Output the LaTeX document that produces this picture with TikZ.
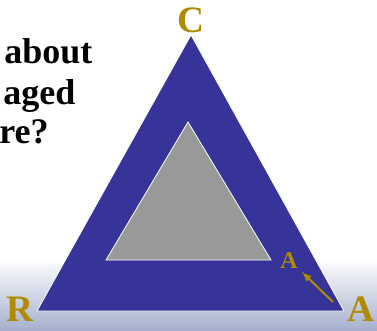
\documentclass[tikz,border=0pt]{standalone}
\usepackage{fontspec}
\setmainfont{Liberation Serif}
\usepackage{tikz}
\definecolor{triblue}{RGB}{54,51,153}
\definecolor{trigray}{RGB}{153,153,153}
\definecolor{gold}{RGB}{176,138,0}
\definecolor{haze}{RGB}{166,176,205}

\begin{document}
\begin{tikzpicture}[x=0.75pt,y=-0.75pt,
                    corner/.style={text=gold,inner sep=0pt,anchor=base,
                                   font=\bfseries\fontsize{28}{28}\selectfont},
                    question/.style={anchor=base west,inner sep=0pt,
                                     font=\bfseries\fontsize{27}{27}\selectfont},
                    pointer/.style={draw=gold,line width=1.5pt,-latex}]
  \useasboundingbox (0,0) rectangle (377,330);
  \fill[white] (0,0) rectangle (377,330);
  \shade[top color=white,bottom color=haze] (0,258) rectangle (377,330);
  % text on the left, cut by the margin
  \node[question] (q1) at (4,63) {about};
  \node[question] (q2) at (3,104) {aged};
  \node[question] (q3) at (-1,143) {re?};
  % triangles
  \coordinate (top) at (191,35);
  \coordinate (left) at (37,311);
  \coordinate (right) at (344,311);
  \fill[triblue] (top)--(left)--(right)--cycle;
  \draw[white,line width=0.6pt] (left)--(right)--(top)--(left);
  \coordinate (itop) at (188,122);
  \coordinate (ileft) at (106,260);
  \coordinate (iright) at (271,260);
  \filldraw[fill=trigray,draw=white,line width=0.6pt] (itop)--(ileft)--(iright)--cycle;
  % corner labels
  \node[corner] (c) at (191,32) {C};
  \node[corner] (r) at (20,321) {R};
  \node[corner] (a) at (361,321) {A};
  \node[corner,font=\bfseries\fontsize{18}{18}\selectfont] (aa) at (289,268) {A};
  \coordinate (tail) at (333,302);
  \coordinate (head) at (302,272);
  \draw[pointer] (tail)--(head);
\end{tikzpicture}
\end{document}
